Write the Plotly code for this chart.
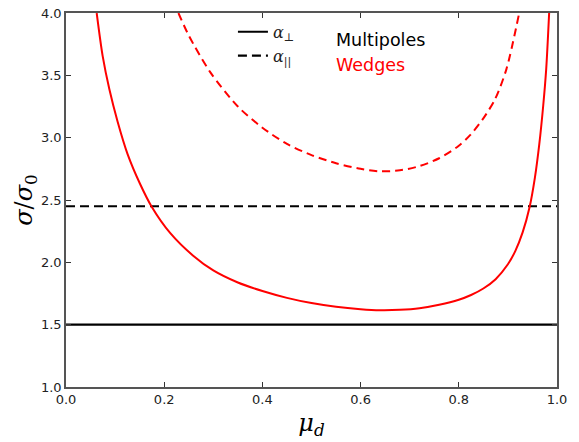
import plotly.graph_objects as go

# ---- data ----
mu_solid = [0.0625, 0.0747, 0.0882, 0.105, 0.1256, 0.1507, 0.1745, 0.212, 0.259, 0.30,
            0.35, 0.40, 0.45, 0.50, 0.55, 0.60, 0.64, 0.68, 0.72, 0.76, 0.80, 0.825,
            0.85, 0.875, 0.90, 0.915, 0.930, 0.944, 0.955, 0.964, 0.972, 0.978, 0.984]
sig_wedge_perp = [4.0, 3.654, 3.39, 3.13, 2.866, 2.63, 2.446, 2.236, 2.053, 1.935,
                  1.838, 1.77, 1.715, 1.673, 1.643, 1.624, 1.616, 1.619, 1.632, 1.66, 1.70,
                  1.738, 1.79, 1.865, 1.985, 2.09, 2.24, 2.44, 2.68, 2.95, 3.26, 3.55, 4.0]

mu_dash = [0.229, 0.25, 0.293, 0.35, 0.40, 0.45, 0.50, 0.55, 0.60, 0.64, 0.68, 0.72,
           0.76, 0.80, 0.823, 0.85, 0.874, 0.897, 0.923]
sig_wedge_par = [4.0, 3.82, 3.53, 3.25, 3.08, 2.95, 2.86, 2.795, 2.75, 2.73, 2.738, 2.772,
                 2.835, 2.935, 3.02, 3.155, 3.31, 3.55, 4.0]

mu_range = [0.0, 1.0]
sig_multi_perp = [1.5, 1.5]
sig_multi_par = [2.45, 2.45]

x_ticks = [0.0, 0.2, 0.4, 0.6, 0.8, 1.0]
y_ticks = [1.0, 1.5, 2.0, 2.5, 3.0, 3.5, 4.0]

fig = go.Figure()
fig.add_trace(go.Scatter(x=mu_range, y=sig_multi_perp, mode="lines",
                         line=dict(color="black", width=2.2),
                         name="<i>α</i><sub>⊥</sub>"))
fig.add_trace(go.Scatter(x=mu_range, y=sig_multi_par, mode="lines",
                         line=dict(color="black", width=2.2, dash="9px,5px"),
                         name="<i>α</i><sub>||</sub>"))
fig.add_trace(go.Scatter(x=mu_solid, y=sig_wedge_perp, mode="lines",
                         line=dict(color="#ff0000", width=2, shape="spline", smoothing=0.8),
                         showlegend=False))
fig.add_trace(go.Scatter(x=mu_dash, y=sig_wedge_par, mode="lines",
                         line=dict(color="#ff0000", width=2, dash="8px,5px",
                                   shape="spline", smoothing=0.8),
                         showlegend=False))

axis_common = dict(showgrid=False, zeroline=False, showline=True, linecolor="#555555",
                   linewidth=1.5, mirror="ticks", ticks="inside", ticklen=5,
                   tickcolor="#333333", tickwidth=1,
                   tickfont=dict(family="DejaVu Sans", size=13, color="#222222"))

fig.update_xaxes(range=[0, 1], tickvals=x_ticks,
                 ticktext=[f"{v:.1f}" for v in x_ticks],
                 title=dict(text="<i>μ</i><sub><i>d</i></sub>",
                            font=dict(family="DejaVu Serif", size=24, color="black"),
                            standoff=8),
                 **axis_common)
fig.update_yaxes(range=[1, 4], tickvals=y_ticks,
                 ticktext=[f"{v:.1f}" for v in y_ticks],
                 title=dict(text="<i>σ</i>/<i>σ</i><sub>0</sub>",
                            font=dict(family="DejaVu Serif", size=24, color="black"),
                            standoff=0),
                 **axis_common)

fig.add_annotation(x=0.545, y=0.927, xref="paper", yref="paper", text="Multipoles",
                   showarrow=False, xanchor="left", yanchor="middle",
                   font=dict(family="DejaVu Sans", size=17.5, color="black"))
fig.add_annotation(x=0.545, y=0.861, xref="paper", yref="paper", text="Wedges",
                   showarrow=False, xanchor="left", yanchor="middle",
                   font=dict(family="DejaVu Sans", size=17.5, color="#ff0000"))

fig.update_layout(
    width=579, height=442,
    margin=dict(l=66, r=22, t=6, b=55),
    paper_bgcolor="white", plot_bgcolor="white",
    showlegend=True,
    legend=dict(x=0.34, y=0.995, xanchor="left", yanchor="top",
                bgcolor="rgba(0,0,0,0)", borderwidth=0,
                font=dict(family="DejaVu Serif", size=16, color="#222222"),
                itemwidth=30),
)

fig.write_html("out.html")
